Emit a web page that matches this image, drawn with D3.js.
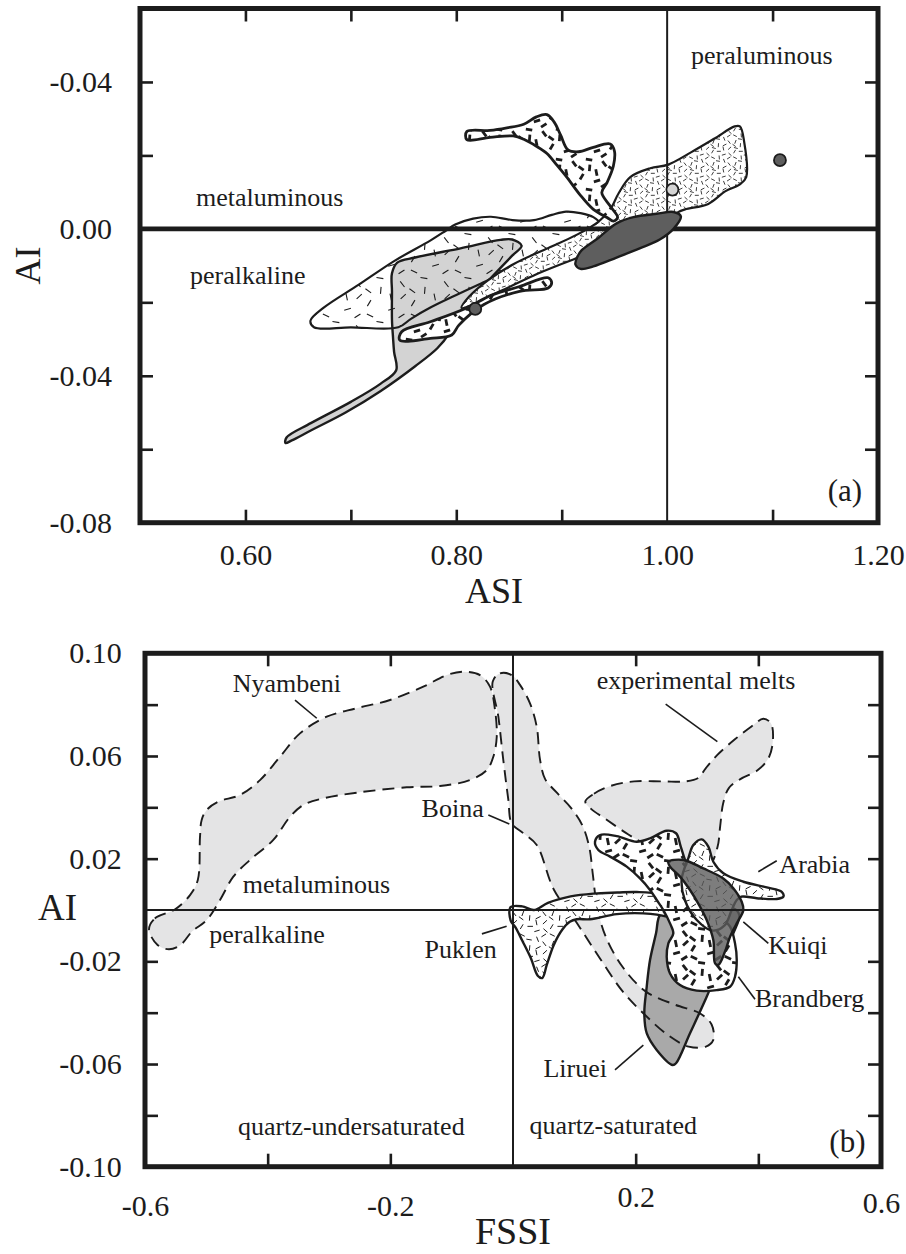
<!DOCTYPE html>
<html>
<head>
<meta charset="utf-8">
<script src="https://cdn.jsdelivr.net/npm/d3@7"></script>
<style>
  body { margin: 0; background: #fff; }
  svg { display: block; }
  text { font-family: "Liberation Serif", "Times New Roman", serif; fill: #1c1c1c; }
</style>
</head>
<body>
<svg id="chart" width="906" height="1254"></svg>
<script>
// ---------------- Panel (a): ASI vs AI ----------------
const asiTicks = [0.6, 0.7, 0.8, 0.9, 1.1];
const asiLabelValues = [0.6, 0.8, 1.0, 1.2];
const asiLabelText = ["0.60", "0.80", "1.00", "1.20"];
const aiTicksA = [-0.06, -0.04, -0.02, 0.02, 0.04];
const aiLabelValuesA = [0.04, 0.0, -0.04, -0.08];
const aiLabelTextA = ["-0.04", "0.00", "-0.04", "-0.08"];

// outlines of the compositional fields, [ASI, AI]
const asiGreyField = [[0.739,-0.0121],[0.744,-0.0092],[0.761,-0.0078],[0.804,-0.0053],[0.842,-0.0030],[0.853,-0.0029],[0.862,-0.0046],[0.853,-0.0073],[0.837,-0.0121],[0.821,-0.0170],[0.810,-0.0209],[0.799,-0.0248],[0.793,-0.0286],[0.782,-0.0325],[0.761,-0.0374],[0.728,-0.0442],[0.695,-0.0500],[0.662,-0.0549],[0.644,-0.0576],[0.638,-0.0583],[0.639,-0.0568],[0.662,-0.0529],[0.700,-0.0471],[0.728,-0.0422],[0.743,-0.0385],[0.741,-0.0335],[0.740,-0.0296],[0.739,-0.0248],[0.739,-0.0170]];
const asiWideField = [[0.6617,-0.0250],[0.6736,-0.0216],[0.7075,-0.0152],[0.7414,-0.0087],[0.7753,-0.0032],[0.790,-0.0005],[0.799,0.0012],[0.816,0.0028],[0.8329,0.0033],[0.8533,0.0024],[0.8737,0.0024],[0.8906,0.0038],[0.9042,0.0047],[0.9177,0.0043],[0.930,0.0032],[0.937,0.0012],[0.930,-0.0015],[0.915,-0.0035],[0.890,-0.0065],[0.860,-0.0100],[0.830,-0.0140],[0.800,-0.0180],[0.775,-0.0215],[0.757,-0.0245],[0.745,-0.0268],[0.700,-0.0268],[0.665,-0.0268]];
const asiBandField = [[0.805,-0.0215],[0.843,-0.0168],[0.877,-0.0122],[0.912,-0.0082],[0.950,-0.0042],[0.990,0.0005],[1.010,0.0045],[1.017,0.0053],[1.039,0.0068],[1.055,0.0102],[1.069,0.0121],[1.075,0.0141],[1.073,0.0238],[1.069,0.0279],[1.064,0.0279],[1.045,0.0246],[1.023,0.0209],[1.001,0.0175],[0.984,0.0165],[0.965,0.0141],[0.954,0.0097],[0.946,0.0053],[0.935,0.0020],[0.915,-0.0015],[0.885,-0.0055],[0.855,-0.0095],[0.830,-0.0140],[0.812,-0.0185]];
const asiUpperField = [[0.810,0.0265],[0.832,0.0268],[0.848,0.0275],[0.864,0.0285],[0.876,0.0305],[0.886,0.0311],[0.893,0.0290],[0.899,0.0255],[0.906,0.0215],[0.916,0.0210],[0.930,0.0222],[0.946,0.0231],[0.950,0.0212],[0.949,0.0171],[0.943,0.0126],[0.938,0.0099],[0.946,0.0062],[0.953,0.0031],[0.949,0.0021],[0.943,0.0031],[0.930,0.0053],[0.917,0.0094],[0.905,0.0140],[0.895,0.0175],[0.886,0.0205],[0.876,0.0225],[0.864,0.0244],[0.854,0.0253],[0.832,0.0249],[0.810,0.0243]];
const asiLowerField = [[0.7464,-0.0303],[0.7482,-0.0280],[0.7753,-0.0253],[0.8092,-0.0216],[0.8329,-0.0181],[0.8600,-0.0157],[0.8872,-0.0133],[0.8905,-0.0147],[0.8872,-0.0161],[0.8600,-0.0170],[0.8262,-0.0206],[0.8025,-0.0262],[0.7957,-0.0289],[0.7753,-0.0298]];
const asiDarkField = [[0.915,-0.0075],[0.913,-0.0097],[0.918,-0.0109],[0.930,-0.0102],[0.952,-0.0078],[0.974,-0.0053],[0.993,-0.0029],[1.006,0.0000],[1.013,0.0034],[1.006,0.0046],[0.990,0.0041],[0.968,0.0032],[0.952,0.0015],[0.935,-0.0024],[0.919,-0.0058]];
const asiDots = [
  { asi: 0.818, ai: -0.0218, tone: "dark" },
  { asi: 1.005, ai: 0.0107, tone: "light" },
  { asi: 1.107, ai: 0.0187, tone: "dark" }
];
const regionLabelsA = [
  { text: "peraluminous", asi: 1.0226, ai: 0.0449 },
  { text: "metaluminous", asi: 0.5531, ai: 0.0062 },
  { text: "peralkaline", asi: 0.5474, ai: -0.0150 }
];

// ---------------- Panel (b): FSSI vs AI ----------------
const fssiTicks = [-0.4, -0.2, 0.2, 0.4];
const fssiLabelValues = [-0.6, -0.2, 0.2, 0.6];
const fssiLabelText = ["-0.6", "-0.2", "0.2", "0.6"];
const aiTicksB = [-0.08, -0.06, -0.04, -0.02, 0.02, 0.04, 0.06, 0.08];
const aiLabelValuesB = [0.10, 0.06, 0.02, -0.02, -0.06, -0.10];
const aiLabelTextB = ["0.10", "0.06", "0.02", "-0.02", "-0.06", "-0.10"];

// [FSSI, AI]
const nyambeni = [[-0.5935,-0.0076],[-0.584,-0.0033],[-0.5514,0.0002],[-0.5266,0.0058],[-0.5139,0.0117],[-0.5103,0.0286],[-0.5076,0.0351],[-0.4994,0.0390],[-0.4805,0.0422],[-0.4451,0.0448],[-0.4125,0.0506],[-0.3799,0.0597],[-0.3473,0.0688],[-0.3037,0.0753],[-0.2548,0.0786],[-0.2005,0.0818],[-0.1462,0.0870],[-0.1081,0.0915],[-0.0810,0.0928],[-0.0538,0.0915],[-0.0375,0.0870],[-0.0293,0.0779],[-0.0265,0.0675],[-0.0321,0.0597],[-0.0428,0.0545],[-0.0701,0.0506],[-0.1190,0.0483],[-0.1733,0.0478],[-0.2548,0.0457],[-0.3093,0.0435],[-0.3419,0.0409],[-0.3636,0.0363],[-0.3908,0.0273],[-0.4288,0.0195],[-0.4560,0.0130],[-0.4777,0.0039],[-0.4994,-0.0039],[-0.5234,-0.0084],[-0.5420,-0.0136],[-0.5609,-0.0153],[-0.5795,-0.0136]];
const boina = [[-0.033,0.0890],[-0.0212,0.0922],[-0.002,0.0915],[0.0114,0.0877],[0.0277,0.0805],[0.0387,0.0714],[0.0440,0.0587],[0.0524,0.0510],[0.0711,0.0458],[0.0945,0.0398],[0.1132,0.0329],[0.1245,0.0243],[0.1301,0.0140],[0.1367,0.0019],[0.1507,-0.0101],[0.1788,-0.0222],[0.2162,-0.0317],[0.2630,-0.0368],[0.3051,-0.0403],[0.3238,-0.0446],[0.3266,-0.0506],[0.3145,-0.0532],[0.2864,-0.0532],[0.2536,-0.0489],[0.2162,-0.0411],[0.1788,-0.0317],[0.1413,-0.0187],[0.1039,-0.0050],[0.0665,0.0080],[0.0387,0.0253],[0.0168,0.0299],[-0.0021,0.0338],[-0.0076,0.0429],[-0.0158,0.0584],[-0.0239,0.0753]];
const experimentalMelts = [[0.1179,0.0423],[0.1320,0.0453],[0.1601,0.0484],[0.1975,0.0501],[0.2443,0.0501],[0.2817,0.0501],[0.3023,0.0515],[0.3145,0.0553],[0.3332,0.0604],[0.3613,0.0664],[0.3894,0.0716],[0.4081,0.0745],[0.4203,0.0728],[0.4240,0.0673],[0.4175,0.0596],[0.3987,0.0544],[0.3707,0.0510],[0.3519,0.0475],[0.3426,0.0415],[0.3379,0.0329],[0.3332,0.0243],[0.3192,0.0174],[0.2724,0.0191],[0.2256,0.0243],[0.1881,0.0294],[0.1507,0.0355],[0.1273,0.0394]];
const liruei = [[0.2397,-0.0020],[0.2332,-0.0091],[0.2234,-0.0195],[0.2180,-0.0299],[0.2141,-0.0402],[0.2180,-0.0480],[0.2343,-0.0545],[0.2604,-0.0604],[0.2658,-0.0597],[0.2886,-0.0480],[0.3158,-0.0338],[0.3429,-0.0182],[0.3592,-0.0091],[0.3690,-0.0020],[0.3600,0.0005],[0.3322,0.0000],[0.2886,-0.0005],[0.2560,-0.0010]];
const puklen = [[-0.004,0.0011],[0.015,0.0014],[0.034,0.0000],[0.057,0.0028],[0.094,0.0053],[0.131,0.0064],[0.170,0.0068],[0.202,0.0070],[0.240,0.0061],[0.272,0.0026],[0.294,-0.0026],[0.310,-0.0091],[0.3185,-0.0136],[0.310,-0.0149],[0.2995,-0.0110],[0.2777,-0.0058],[0.2506,-0.0026],[0.2125,-0.0013],[0.1691,-0.0016],[0.1256,-0.0036],[0.104,-0.0036],[0.0926,-0.0046],[0.0805,-0.0076],[0.0665,-0.0136],[0.0552,-0.0213],[0.0477,-0.0265],[0.0403,-0.0256],[0.029,-0.0187],[0.015,-0.0119],[0.0038,-0.0067],[-0.0038,-0.0041]];
const brandberg = [[0.1337,0.0266],[0.1419,0.0292],[0.1691,0.0288],[0.2017,0.0266],[0.2234,0.0279],[0.2506,0.0309],[0.2658,0.0299],[0.2735,0.0247],[0.2805,0.0195],[0.2995,0.0091],[0.3158,0.0013],[0.3350,-0.0020],[0.3539,-0.0065],[0.3620,-0.0130],[0.3648,-0.0195],[0.3620,-0.0260],[0.3539,-0.0299],[0.3322,-0.0312],[0.2995,-0.0314],[0.2723,-0.0292],[0.2560,-0.0247],[0.2506,-0.0182],[0.2533,-0.0130],[0.2614,-0.0091],[0.2560,-0.0052],[0.2451,0.0000],[0.2343,0.0039],[0.2234,0.0078],[0.2071,0.0123],[0.1854,0.0169],[0.1582,0.0208],[0.1391,0.0234]];
const arabia = [[0.2858,0.0201],[0.2940,0.0253],[0.3077,0.0275],[0.3185,0.0247],[0.3266,0.0188],[0.3430,0.0143],[0.3756,0.0110],[0.4137,0.0088],[0.4382,0.0071],[0.4408,0.0052],[0.4300,0.0043],[0.3974,0.0046],[0.3729,0.0052],[0.3648,0.0039],[0.3566,0.0000],[0.3450,-0.0060],[0.3250,-0.0080],[0.3000,-0.0040],[0.2800,0.0040],[0.2750,0.0120]];
const kuiqi = [[0.2533,0.0188],[0.2777,0.0195],[0.3103,0.0162],[0.3429,0.0123],[0.3592,0.0085],[0.3729,0.0032],[0.3756,0.0000],[0.3648,-0.0052],[0.3539,-0.0104],[0.3457,-0.0162],[0.3348,-0.0214],[0.3294,-0.0208],[0.3266,-0.0117],[0.3158,-0.0039],[0.3049,0.0013],[0.2886,0.0078],[0.2723,0.0130],[0.2560,0.0169]];

const regionLabelsB = [
  { text: "Nyambeni", fssi: -0.457, ai: 0.0850 },
  { text: "Boina", fssi: -0.149, ai: 0.0363 },
  { text: "experimental melts", fssi: 0.1365, ai: 0.0862 },
  { text: "Arabia", fssi: 0.4343, ai: 0.0145 },
  { text: "Kuiqi", fssi: 0.4163, ai: -0.0171 },
  { text: "Brandberg", fssi: 0.3946, ai: -0.0377 },
  { text: "Liruei", fssi: 0.0496, ai: -0.0652 },
  { text: "Puklen", fssi: -0.1443, ai: -0.0187 },
  { text: "metaluminous", fssi: -0.4407, ai: 0.0065 },
  { text: "peralkaline", fssi: -0.4952, ai: -0.0127 },
  { text: "quartz-undersaturated", fssi: -0.4484, ai: -0.0877 },
  { text: "quartz-saturated", fssi: 0.0271, ai: -0.0873 }
];
// leader lines from a name to its field: [[FSSI, AI], [FSSI, AI]]
const leadersB = [
  [[-0.3554, 0.0818], [-0.3200, 0.0747]],
  [[-0.0402, 0.0370], [-0.0060, 0.0335]],
  [[0.2489, 0.0802], [0.3332, 0.0656]],
  [[0.4000, 0.0149], [0.4300, 0.0192]],
  [[0.3755, -0.0046], [0.4163, -0.0130]],
  [[0.3674, -0.0260], [0.3946, -0.0348]],
  [[0.1663, -0.0623], [0.2125, -0.0526]],
  [[-0.0507, -0.0093], [-0.0104, -0.0063]]
];

// ---------------- drawing ----------------
const svg = d3.select("#chart");
const defs = svg.append("defs");
const INK = "#1c1c1c";

// short-dash ornament tiles; dash spots follow a low-discrepancy sequence
function dashPattern(id, size, count, len, width, bg) {
  const p = defs.append("pattern").attr("id", id)
    .attr("patternUnits", "userSpaceOnUse")
    .attr("width", size).attr("height", size);
  if (bg) p.append("rect").attr("width", size).attr("height", size).attr("fill", bg);
  for (let i = 0; i < count; i++) {
    const cx = ((0.37 + i * 0.7548777) % 1) * size;
    const cy = ((0.61 + i * 0.5698403) % 1) * size;
    const ang = ((0.2 + i * 0.6180339) % 1) * Math.PI;
    const dx = Math.cos(ang) * len / 2, dy = Math.sin(ang) * len / 2;
    for (const ox of [-size, 0, size]) for (const oy of [-size, 0, size]) {
      p.append("line")
        .attr("x1", cx + ox - dx).attr("y1", cy + oy - dy)
        .attr("x2", cx + ox + dx).attr("y2", cy + oy + dy)
        .attr("stroke", INK).attr("stroke-width", width);
    }
  }
}
dashPattern("sparseDash", 44, 10, 7, 1.1, null);
dashPattern("fineDash", 22, 17, 4, 0.85, "#fff");
dashPattern("coarseDash", 30, 8, 6.5, 2.8, "#fff");
dashPattern("fineDashB", 30, 15, 5.5, 1.0, "#fff");
dashPattern("coarseDashB", 34, 10, 7, 2.8, "#fff");

function panelFrame(x, y) {
  const [x0, x1] = x.range(), [y0, y1] = y.range();
  return { left: Math.min(x0, x1), top: Math.min(y0, y1), w: Math.abs(x1 - x0), h: Math.abs(y1 - y0) };
}

function drawTicks(g, x, y, xTicks, yTicks) {
  const f = panelFrame(x, y);
  const styleTicks = sel => {
    sel.select(".domain").remove();
    sel.selectAll(".tick line").attr("stroke", INK).attr("stroke-width", 2.6);
  };
  g.append("g").attr("transform", `translate(0,${f.top + f.h})`)
    .call(d3.axisBottom(x).tickValues(xTicks).tickSize(-13).tickFormat("")).call(styleTicks);
  g.append("g").attr("transform", `translate(0,${f.top})`)
    .call(d3.axisTop(x).tickValues(xTicks).tickSize(-13).tickFormat("")).call(styleTicks);
  g.append("g").attr("transform", `translate(${f.left},0)`)
    .call(d3.axisLeft(y).tickValues(yTicks).tickSize(-13).tickFormat("")).call(styleTicks);
  g.append("g").attr("transform", `translate(${f.left + f.w},0)`)
    .call(d3.axisRight(y).tickValues(yTicks).tickSize(-13).tickFormat("")).call(styleTicks);
}

function drawTickLabels(g, x, y, xVals, xText, yVals, yText, xPad, yPad) {
  const f = panelFrame(x, y);
  const clean = sel => {
    sel.select(".domain").remove();
    sel.selectAll(".tick line").remove();
    sel.attr("font-family", null).attr("font-size", null);
    sel.selectAll("text").style("font-size", "30px").attr("fill", INK);
  };
  const gx = g.append("g").attr("transform", `translate(0,${f.top + f.h})`)
    .call(d3.axisBottom(x).tickValues(xVals).tickSize(0).tickPadding(xPad)
      .tickFormat((d, i) => xText[i])).call(clean);
  const gy = g.append("g").attr("transform", `translate(${f.left},0)`)
    .call(d3.axisLeft(y).tickValues(yVals).tickSize(0).tickPadding(yPad)
      .tickFormat((d, i) => yText[i])).call(clean);
  return { gx, gy };
}

function frameRect(g, x, y) {
  const f = panelFrame(x, y);
  g.append("rect").attr("x", f.left).attr("y", f.top).attr("width", f.w).attr("height", f.h)
    .attr("fill", "none").attr("stroke", INK).attr("stroke-width", 5);
}

function clipFor(id, x, y) {
  const f = panelFrame(x, y);
  defs.append("clipPath").attr("id", id).append("rect")
    .attr("x", f.left).attr("y", f.top).attr("width", f.w).attr("height", f.h);
  return `url(#${id})`;
}

// ===== panel (a) =====
const xA = d3.scaleLinear().domain([0.5, 1.2]).range([140, 878]);
const yA = d3.scaleLinear().domain([-0.08, 0.06]).range([522.7, 8.5]);
const outlineA = d3.line().x(d => xA(d[0])).y(d => yA(d[1])).curve(d3.curveCatmullRomClosed.alpha(0.5));

const gA = svg.append("g");
const fieldsA = gA.append("g").attr("clip-path", clipFor("clipA", xA, yA));

const fieldA = (pts, fill, sw) => fieldsA.append("path").attr("d", outlineA(pts))
  .attr("fill", fill).attr("stroke", INK).attr("stroke-width", sw).attr("stroke-linejoin", "round");

fieldA(asiGreyField, "#d3d3d3", 2.4);
fieldA(asiWideField, "url(#sparseDash)", 2.2);
fieldA(asiBandField, "url(#fineDash)", 2.2);
fieldA(asiLowerField, "url(#coarseDash)", 2.8);
fieldA(asiUpperField, "url(#coarseDash)", 2.8);

// reference lines: AI = 0 and ASI = 1
fieldsA.append("line").attr("x1", xA(0.5)).attr("x2", xA(1.2)).attr("y1", yA(0)).attr("y2", yA(0))
  .attr("stroke", INK).attr("stroke-width", 4.6);
fieldsA.append("line").attr("x1", xA(1.0)).attr("x2", xA(1.0)).attr("y1", yA(-0.08)).attr("y2", yA(0.06))
  .attr("stroke", INK).attr("stroke-width", 2);

fieldA(asiDarkField, "#5e5e5e", 2.4);

fieldsA.selectAll("circle.dot").data(asiDots).join("circle").attr("class", "dot")
  .attr("cx", d => xA(d.asi)).attr("cy", d => yA(d.ai)).attr("r", 6)
  .attr("fill", d => d.tone === "dark" ? "#5e5e5e" : "#d3d3d3")
  .attr("stroke", INK).attr("stroke-width", 1.8);

drawTicks(gA, xA, yA, asiTicks, aiTicksA);
drawTickLabels(gA, xA, yA, asiLabelValues, asiLabelText, aiLabelValuesA, aiLabelTextA, 21, 28);
frameRect(gA, xA, yA);

gA.selectAll("text.region").data(regionLabelsA).join("text").attr("class", "region")
  .attr("x", d => xA(d.asi)).attr("y", d => yA(d.ai)).style("font-size", "26px").text(d => d.text);
gA.append("text").attr("x", xA(1.1523)).attr("y", yA(-0.0741)).style("font-size", "31px").text("(a)");

gA.append("text").attr("x", 494).attr("y", 603).attr("text-anchor", "middle")
  .style("font-size", "36px").text("ASI");
gA.append("text").attr("transform", `translate(40,${(yA(0.06) + yA(-0.08)) / 2}) rotate(-90)`)
  .attr("text-anchor", "middle").style("font-size", "36px").text("AI");

// ===== panel (b) =====
const xB = d3.scaleLinear().domain([-0.6, 0.6]).range([145, 881]);
const yB = d3.scaleLinear().domain([-0.1, 0.1]).range([1166.7, 653.3]);
const outlineB = d3.line().x(d => xB(d[0])).y(d => yB(d[1])).curve(d3.curveCatmullRomClosed.alpha(0.5));

const gB = svg.append("g");
const fieldsB = gB.append("g").attr("clip-path", clipFor("clipB", xB, yB));

const lightFields = [nyambeni, boina, experimentalMelts];
fieldsB.selectAll("path.light").data(lightFields).join("path").attr("class", "light")
  .attr("d", d => outlineB(d)).attr("fill", "#e4e4e5").attr("stroke", "none");

fieldsB.append("path").attr("d", outlineB(liruei)).attr("fill", "#a9a9a9")
  .attr("stroke", INK).attr("stroke-width", 2.4).attr("stroke-linejoin", "round");

fieldsB.selectAll("path.lightEdge").data(lightFields).join("path").attr("class", "lightEdge")
  .attr("d", d => outlineB(d)).attr("fill", "none").attr("stroke", INK)
  .attr("stroke-width", 1.9).attr("stroke-dasharray", "12,7");

const fieldB = (pts, fill, sw) => fieldsB.append("path").attr("d", outlineB(pts))
  .attr("fill", fill).attr("stroke", INK).attr("stroke-width", sw).attr("stroke-linejoin", "round");
fieldB(puklen, "url(#fineDashB)", 2.4);
fieldB(brandberg, "url(#coarseDashB)", 2.4);
fieldB(arabia, "url(#fineDashB)", 2.4);
fieldB(kuiqi, "#5c5c5c", 2.4).attr("fill-opacity", 0.8);

// reference lines: AI = 0 and FSSI = 0
fieldsB.append("line").attr("x1", xB(-0.6)).attr("x2", xB(0.6)).attr("y1", yB(0)).attr("y2", yB(0))
  .attr("stroke", INK).attr("stroke-width", 2);
fieldsB.append("line").attr("x1", xB(0)).attr("x2", xB(0)).attr("y1", yB(-0.1)).attr("y2", yB(0.1))
  .attr("stroke", INK).attr("stroke-width", 2);

drawTicks(gB, xB, yB, fssiTicks, aiTicksB);
const labsB = drawTickLabels(gB, xB, yB, fssiLabelValues, fssiLabelText, aiLabelValuesB, aiLabelTextB, 19, 23.3);
// the printed FSSI numbers do not sit on one baseline
const fssiBaselineShift = { "-0.6": 9, "-0.2": 9, "0.2": 0, "0.6": 6 };
labsB.gx.selectAll(".tick text").attr("y", function () {
  return 19 + fssiBaselineShift[d3.select(this).text()];
});
frameRect(gB, xB, yB);

gB.selectAll("line.leader").data(leadersB).join("line").attr("class", "leader")
  .attr("x1", d => xB(d[0][0])).attr("y1", d => yB(d[0][1]))
  .attr("x2", d => xB(d[1][0])).attr("y2", d => yB(d[1][1]))
  .attr("stroke", INK).attr("stroke-width", 1.6);

gB.selectAll("text.region").data(regionLabelsB).join("text").attr("class", "region")
  .attr("x", d => xB(d.fssi)).attr("y", d => yB(d.ai)).style("font-size", "26px").text(d => d.text);
gB.append("text").attr("x", xB(0.5158)).attr("y", yB(-0.0942)).style("font-size", "31px").text("(b)");

gB.append("text").attr("x", xB(0)).attr("y", 1244).attr("text-anchor", "middle")
  .style("font-size", "38px").text("FSSI");
gB.append("text").attr("x", 38).attr("y", 920).style("font-size", "37px").text("AI");
</script>
</body>
</html>
